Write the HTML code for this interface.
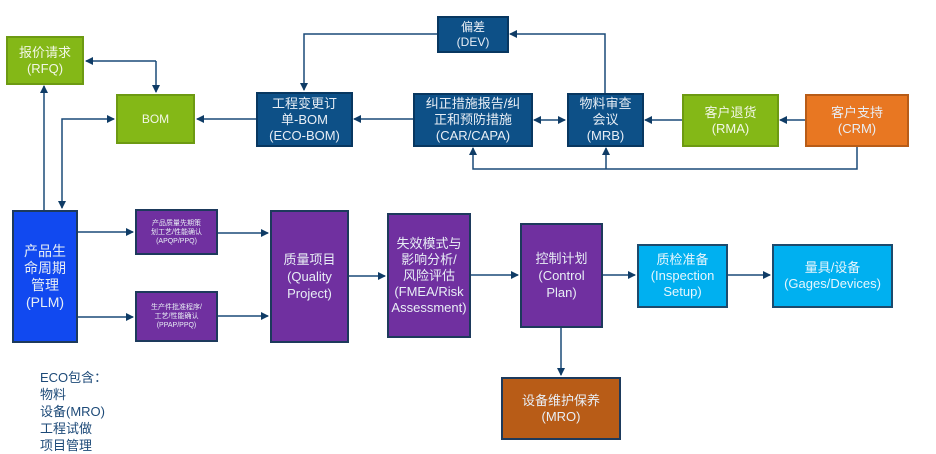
<!DOCTYPE html>
<html><head><meta charset="utf-8"><style>
body{margin:0;width:936px;height:450px;background:#fff;position:relative;overflow:hidden;font-family:"Liberation Sans","Noto Sans CJK SC",sans-serif}
.b{position:absolute;box-sizing:border-box;display:flex;align-items:center;justify-content:center;text-align:center;color:#e8eef5;font-size:12px;line-height:15px;border:2px solid #0b3a63}
.g{background:#84b817;border-color:#6d9a12;color:#f2f7e6}
.d{background:#0d5087;border-color:#083760}
.p{background:#7030a0;border-color:#1d3a5c;font-size:13px;line-height:17px}
.c{background:#00b0f0;border-color:#1d4a6c;color:#e6f6fd;font-size:13px;line-height:16px}
svg{position:absolute;left:0;top:0}
</style></head><body>
<svg width="936" height="450">
<defs><marker id="a" markerWidth="8" markerHeight="8" refX="7" refY="4" orient="auto" markerUnits="userSpaceOnUse"><path d="M0,0L8,4L0,8z" fill="#0f3c66"/></marker></defs>
<g stroke="#1a4a78" stroke-width="1.5" fill="none">
<path d="M156,61H86" marker-end="url(#a)"/><path d="M156,61V92" marker-end="url(#a)"/>
<path d="M44,210V86" marker-end="url(#a)"/>
<path d="M62,160V119H114" marker-end="url(#a)"/><path d="M62,160V208" marker-end="url(#a)"/>
<path d="M256,119H197" marker-end="url(#a)"/>
<path d="M413,119H354" marker-end="url(#a)"/>
<path d="M550,120H534" marker-end="url(#a)"/><path d="M550,120H565" marker-end="url(#a)"/>
<path d="M682,120H645" marker-end="url(#a)"/>
<path d="M805,120H780" marker-end="url(#a)"/>
<path d="M857,146V169H473V148" marker-end="url(#a)"/><path d="M606,169V148" marker-end="url(#a)"/>
<path d="M605,93V34H510" marker-end="url(#a)"/>
<path d="M437,34H304V90" marker-end="url(#a)"/>
<path d="M78,232H133" marker-end="url(#a)"/><path d="M78,317H133" marker-end="url(#a)"/>
<path d="M218,233H268" marker-end="url(#a)"/><path d="M218,316H268" marker-end="url(#a)"/>
<path d="M349,276H385" marker-end="url(#a)"/>
<path d="M471,275H518" marker-end="url(#a)"/>
<path d="M603,275H635" marker-end="url(#a)"/>
<path d="M728,275H770" marker-end="url(#a)"/>
<path d="M561,327V375" marker-end="url(#a)"/>
</g></svg>
<div class="b g" style="left:6px;top:36px;width:78px;height:49px;font-size:13px;line-height:16px">报价请求<br>(RFQ)</div>
<div class="b g" style="left:116px;top:94px;width:79px;height:50px">BOM</div>
<div class="b d" style="left:256px;top:92px;width:97px;height:55px;font-size:13px;line-height:16px">工程变更订<br>单-BOM<br>(ECO-BOM)</div>
<div class="b d" style="left:437px;top:16px;width:72px;height:37px">偏差<br>(DEV)</div>
<div class="b d" style="left:413px;top:93px;width:120px;height:54px;font-size:13px;line-height:16px">纠正措施报告/纠<br>正和预防措施<br>(CAR/CAPA)</div>
<div class="b d" style="left:567px;top:93px;width:77px;height:54px;font-size:13px;line-height:16px">物料审查<br>会议<br>(MRB)</div>
<div class="b g" style="left:682px;top:94px;width:97px;height:53px;font-size:13px;line-height:16px">客户退货<br>(RMA)</div>
<div class="b" style="left:805px;top:94px;width:104px;height:53px;background:#e87722;border-color:#b85c17;font-size:13px;line-height:16px">客户支持<br>(CRM)</div>
<div class="b" style="left:12px;top:210px;width:66px;height:133px;background:#1149f0;border-color:#1d3a5c;font-size:14px;line-height:17px">产品生<br>命周期<br>管理<br>(PLM)</div>
<div class="b p" style="left:135px;top:209px;width:83px;height:46px;font-size:7px;line-height:9px">产品质量先期策<br>划工艺/性能确认<br>(APQP/PPQ)</div>
<div class="b p" style="left:135px;top:291px;width:83px;height:51px;font-size:7px;line-height:9px">生产件批准程序/<br>工艺/性能确认<br>(PPAP/PPQ)</div>
<div class="b p" style="left:270px;top:210px;width:79px;height:133px">质量项目<br>(Quality<br>Project)</div>
<div class="b p" style="left:387px;top:213px;width:84px;height:125px;font-size:13px;line-height:16px">失效模式与<br>影响分析/<br>风险评估<br>(FMEA/Risk<br>Assessment)</div>
<div class="b p" style="left:520px;top:223px;width:83px;height:105px">控制计划<br>(Control<br>Plan)</div>
<div class="b c" style="left:637px;top:244px;width:91px;height:64px">质检准备<br>(Inspection<br>Setup)</div>
<div class="b c" style="left:772px;top:244px;width:121px;height:64px">量具/设备<br>(Gages/Devices)</div>
<div class="b" style="left:501px;top:377px;width:120px;height:63px;background:#b85c17;border-color:#1d3a5c;font-size:13px;line-height:16px">设备维护保养<br>(MRO)</div>
<div style="position:absolute;left:40px;top:369px;color:#1d4a78;font-size:13px;line-height:17px">ECO包含：<br>物料<br>设备(MRO)<br>工程试做<br>项目管理</div>
</body></html>
